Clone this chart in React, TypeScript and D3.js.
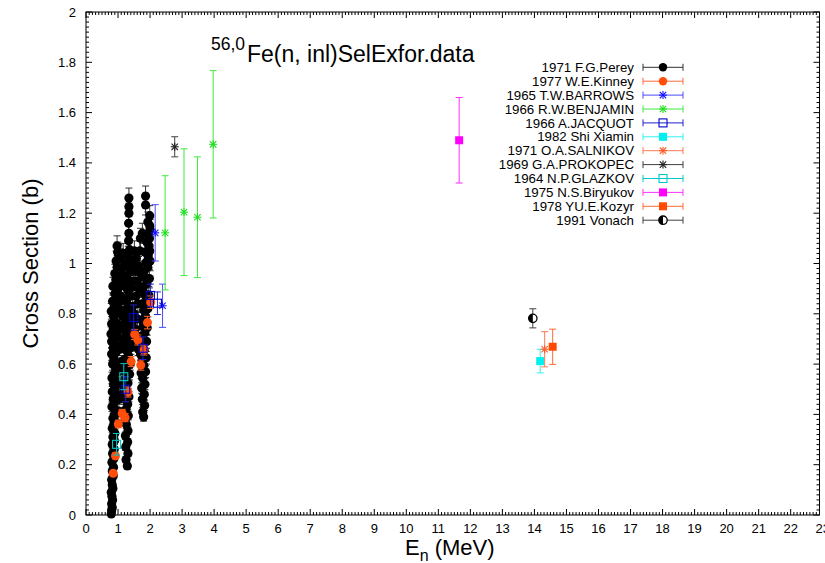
import React from 'react';
import * as d3 from 'd3';

const W = 825;
const H = 563;
const PLOT = { left: 86, right: 819.5, top: 12, bottom: 515 };
const FONT = '"Liberation Sans", Arial, Helvetica, sans-serif';

const xMajorTicks = d3.range(0, 23);
const xTickLabels = d3.range(0, 24).map(String);
const yMajorTicks = [0, 0.2, 0.4, 0.6, 0.8, 1, 1.2, 1.4, 1.6, 1.8, 2];
const yTickLabels = ['0', '0.2', '0.4', '0.6', '0.8', '1', '1.2', '1.4', '1.6', '1.8', '2'];

type Pt = [number, number, number];

// 1971 F.G.Perey  [E (MeV), sigma (b), err]
const pereyData: Pt[] = [
  [0.79, 0.004, 0.005], [0.8, 0.018, 0.006], [0.82, 0.03, 0.006], [0.8, 0.045, 0.007], [0.83, 0.06, 0.007],
  [0.81, 0.075, 0.008], [0.79, 0.09, 0.008], [0.84, 0.105, 0.009], [0.82, 0.12, 0.009], [0.8, 0.14, 0.01],
  [0.85, 0.155, 0.01], [0.82, 0.175, 0.011], [0.86, 0.19, 0.011], [0.81, 0.21, 0.012], [0.87, 0.225, 0.012],
  [0.83, 0.245, 0.013], [0.88, 0.26, 0.013], [0.82, 0.28, 0.014], [0.89, 0.295, 0.014],
  [0.84, 0.31, 0.015], [0.9, 0.325, 0.015], [0.82, 0.345, 0.016], [0.87, 0.36, 0.016], [0.93, 0.37, 0.017],
  [0.84, 0.385, 0.017], [0.89, 0.4, 0.018], [0.95, 0.415, 0.018], [0.81, 0.43, 0.019], [0.88, 0.445, 0.019],
  [0.85, 0.46, 0.02], [0.94, 0.47, 0.02], [0.82, 0.49, 0.021], [0.9, 0.5, 0.021], [0.86, 0.52, 0.022],
  [0.97, 0.53, 0.022], [0.81, 0.545, 0.023], [0.88, 0.56, 0.023], [0.93, 0.58, 0.024], [0.83, 0.6, 0.024],
  [0.99, 0.6, 0.024], [0.87, 0.62, 0.025], [0.8, 0.64, 0.025], [0.93, 0.645, 0.026], [0.85, 0.665, 0.026],
  [1.0, 0.67, 0.027], [0.8, 0.69, 0.027], [0.9, 0.7, 0.028], [0.78, 0.72, 0.028], [0.96, 0.725, 0.029],
  [0.85, 0.74, 0.029],
  [0.8, 0.76, 0.03], [0.9, 0.77, 0.03], [0.99, 0.76, 0.03], [0.86, 0.79, 0.031], [0.79, 0.81, 0.031],
  [0.95, 0.805, 0.031], [0.88, 0.83, 0.032], [1.03, 0.82, 0.032], [0.83, 0.85, 0.033], [0.95, 0.86, 0.033],
  [1.07, 0.85, 0.033], [0.9, 0.88, 0.034], [0.84, 0.91, 0.035], [1.0, 0.9, 0.035], [0.93, 0.935, 0.036],
  [1.1, 0.92, 0.036], [0.9, 0.96, 0.037], [1.04, 0.955, 0.037], [1.18, 0.95, 0.037], [0.97, 0.985, 0.038],
  [1.12, 0.98, 0.038], [0.94, 1.01, 0.039], [1.07, 1.02, 0.039], [0.99, 1.045, 0.04], [0.97, 1.07, 0.04],
  [1.02, 1.035, 0.04], [1.16, 1.04, 0.04], [1.22, 1.0, 0.04],
  [1.04, 0.46, 0.02], [1.09, 0.52, 0.022], [1.03, 0.57, 0.023], [1.1, 0.61, 0.024], [1.05, 0.66, 0.026],
  [1.13, 0.7, 0.028], [1.07, 0.74, 0.029], [1.14, 0.79, 0.031], [1.08, 0.87, 0.034], [1.15, 0.6, 0.024],
  [1.06, 0.41, 0.018], [1.12, 0.48, 0.02],
  [1.29, 0.195, 0.012], [1.25, 0.22, 0.012], [1.31, 0.245, 0.013], [1.24, 0.27, 0.013], [1.3, 0.29, 0.014],
  [1.23, 0.315, 0.015], [1.31, 0.335, 0.015], [1.26, 0.36, 0.016], [1.22, 0.38, 0.017], [1.32, 0.395, 0.017],
  [1.25, 0.42, 0.018], [1.3, 0.44, 0.019], [1.22, 0.46, 0.02], [1.34, 0.47, 0.02], [1.27, 0.49, 0.021],
  [1.2, 0.51, 0.021], [1.31, 0.525, 0.022], [1.25, 0.545, 0.023], [1.36, 0.56, 0.023], [1.19, 0.575, 0.024],
  [1.28, 0.59, 0.024], [1.38, 0.6, 0.024], [1.22, 0.62, 0.025], [1.32, 0.635, 0.025], [1.26, 0.655, 0.026],
  [1.4, 0.665, 0.026], [1.2, 0.68, 0.027], [1.3, 0.7, 0.028], [1.42, 0.71, 0.028], [1.24, 0.725, 0.029],
  [1.34, 0.745, 0.029], [1.2, 0.76, 0.03], [1.44, 0.765, 0.03], [1.28, 0.78, 0.031], [1.37, 0.8, 0.031],
  [1.23, 0.815, 0.032], [1.31, 0.835, 0.032], [1.46, 0.83, 0.032], [1.26, 0.86, 0.033], [1.39, 0.87, 0.034],
  [1.3, 0.895, 0.034], [1.22, 0.91, 0.035], [1.43, 0.905, 0.035], [1.34, 0.93, 0.036], [1.26, 0.95, 0.037],
  [1.38, 0.965, 0.037], [1.3, 0.99, 0.038], [1.4, 1.01, 0.039], [1.32, 1.03, 0.039], [1.36, 1.055, 0.04],
  [1.33, 1.09, 0.04], [1.34, 1.12, 0.04], [1.33, 1.16, 0.04], [1.34, 1.2, 0.04], [1.34, 1.226, 0.04],
  [1.34, 1.26, 0.04],
  [1.5, 0.68, 0.027], [1.54, 0.74, 0.03], [1.5, 0.8, 0.032], [1.56, 0.87, 0.034], [1.49, 0.93, 0.035],
  [1.6, 0.93, 0.036], [1.54, 0.97, 0.037], [1.64, 0.99, 0.038], [1.57, 1.02, 0.039], [1.68, 1.05, 0.04],
  [1.62, 0.84, 0.033], [1.6, 0.78, 0.031], [1.66, 0.9, 0.035], [1.72, 0.96, 0.037], [1.7, 1.1, 0.04],
  [1.46, 0.99, 0.038], [1.51, 1.05, 0.04], [1.58, 0.71, 0.028], [1.63, 0.66, 0.026], [1.76, 1.12, 0.04],
  [1.8, 0.39, 0.017], [1.77, 0.41, 0.018], [1.83, 0.435, 0.019], [1.76, 0.46, 0.02], [1.82, 0.48, 0.02],
  [1.74, 0.505, 0.021], [1.84, 0.52, 0.022], [1.77, 0.545, 0.023], [1.72, 0.565, 0.023], [1.86, 0.57, 0.023],
  [1.8, 0.595, 0.024], [1.75, 0.615, 0.025], [1.88, 0.625, 0.025], [1.7, 0.64, 0.025], [1.82, 0.655, 0.026],
  [1.77, 0.68, 0.027], [1.89, 0.69, 0.027], [1.72, 0.71, 0.028], [1.84, 0.725, 0.029], [1.78, 0.75, 0.03],
  [1.91, 0.745, 0.03], [1.74, 0.775, 0.03], [1.86, 0.79, 0.031], [1.8, 0.815, 0.032], [1.93, 0.82, 0.032],
  [1.76, 0.84, 0.033], [1.88, 0.855, 0.033], [1.82, 0.88, 0.034], [1.96, 0.875, 0.034], [1.78, 0.905, 0.035],
  [1.9, 0.92, 0.036], [1.84, 0.945, 0.037], [1.98, 0.94, 0.037], [1.81, 0.97, 0.038], [1.93, 0.985, 0.038],
  [1.88, 1.005, 0.039], [2.0, 1.01, 0.039], [1.94, 1.03, 0.04], [1.84, 1.045, 0.04], [1.99, 1.05, 0.04],
  [1.97, 1.07, 0.04], [1.9, 1.085, 0.04], [1.98, 1.1, 0.04], [1.95, 1.12, 0.04], [2.0, 1.135, 0.04],
  [1.99, 1.15, 0.04], [1.93, 1.165, 0.04], [1.99, 1.19, 0.04], [1.86, 1.233, 0.04], [1.86, 1.268, 0.04],
];

const kinneyData: Pt[] = [
  [0.85, 0.166, 0.01], [0.92, 0.235, 0.012], [1.01, 0.362, 0.015], [1.13, 0.404, 0.016], [1.22, 0.387, 0.016],
  [1.31, 0.489, 0.02], [1.41, 0.61, 0.02], [1.52, 0.718, 0.02], [1.62, 0.696, 0.02], [1.71, 0.596, 0.02],
  [1.81, 0.656, 0.02], [1.92, 0.765, 0.025], [2.02, 0.846, 0.025],
];
const barrowsData: Pt[] = [[2.16, 1.122, 0.112], [2.39, 0.832, 0.086]];
const benjaminData: Pt[] = [
  [2.47, 1.122, 0.227], [3.06, 1.204, 0.252], [3.48, 1.184, 0.24], [3.97, 1.474, 0.293],
];
const jacquotData: Pt[] = [
  [1.24, 0.5, 0.05], [1.49, 0.785, 0.05], [1.78, 0.663, 0.045], [2.01, 0.873, 0.045], [2.23, 0.842, 0.045],
];
const shiData: Pt[] = [[14.18, 0.612, 0.047]];
const salnikovData: Pt[] = [[14.32, 0.659, 0.07]];
const prokopecData: Pt[] = [[2.77, 1.464, 0.04]];
const glazkovData: Pt[] = [[0.955, 0.281, 0.043], [1.18, 0.55, 0.052]];
const biryukovData: Pt[] = [[11.65, 1.49, 0.17]];
const kozyrData: Pt[] = [[14.57, 0.669, 0.07]];
const vonachData: Pt[] = [[13.95, 0.782, 0.038]];

type Marker = 'circle' | 'star' | 'square' | 'fsquare' | 'half';
interface Series { name: string; color: string; bar: string; marker: Marker; data: Pt[]; r?: number }

const series: Series[] = [
  { name: '1971 F.G.Perey', color: '#000000', bar: '#303030', marker: 'circle', data: pereyData, r: 4.6 },
  { name: '1977 W.E.Kinney', color: '#ff4d0a', bar: '#ff6a3a', marker: 'circle', data: kinneyData, r: 4.5 },
  { name: '1965 T.W.BARROWS', color: '#1010ff', bar: '#4a4aff', marker: 'star', data: barrowsData },
  { name: '1966 R.W.BENJAMIN', color: '#22dd22', bar: '#3ee83e', marker: 'star', data: benjaminData },
  { name: '1966 A.JACQUOT', color: '#0000c8', bar: '#2020d0', marker: 'square', data: jacquotData },
  { name: '1982 Shi Xiamin', color: '#00f0f0', bar: '#30f0f0', marker: 'fsquare', data: shiData },
  { name: '1971 O.A.SALNIKOV', color: '#ff5a28', bar: '#ff7a50', marker: 'star', data: salnikovData },
  { name: '1969 G.A.PROKOPEC', color: '#202020', bar: '#404040', marker: 'star', data: prokopecData },
  { name: '1964 N.P.GLAZKOV', color: '#00c8c8', bar: '#00c8c8', marker: 'square', data: glazkovData },
  { name: '1975 N.S.Biryukov', color: '#ff00ff', bar: '#ff30ff', marker: 'fsquare', data: biryukovData },
  { name: '1978 YU.E.Kozyr', color: '#ff4a00', bar: '#ff6a30', marker: 'fsquare', data: kozyrData },
  { name: '1991 Vonach', color: '#000000', bar: '#404040', marker: 'half', data: vonachData },
];

const xScale = d3.scaleLinear().domain([0, 22.9]).range([PLOT.left, PLOT.right]);
const yScale = d3.scaleLinear().domain([0, 2]).range([PLOT.bottom, PLOT.top]);

function MarkerShape({ m, cx, cy, color, r = 4.2 }: { m: Marker; cx: number; cy: number; color: string; r?: number }) {
  if (m === 'circle') return <circle cx={cx} cy={cy} r={r} fill={color} />;
  if (m === 'square') return <rect x={cx - 4} y={cy - 4} width={8} height={8} fill="none" stroke={color} strokeWidth={1.1} />;
  if (m === 'fsquare') return <rect x={cx - 4} y={cy - 4} width={8} height={8} fill={color} />;
  if (m === 'half') {
    return (
      <g>
        <circle cx={cx} cy={cy} r={r} fill="#fff" stroke={color} strokeWidth={1.3} />
        <path d={`M${cx},${cy - r} A${r},${r} 0 0 0 ${cx},${cy + r} Z`} fill={color} />
      </g>
    );
  }
  const s = 4;
  const d = 3.2;
  return (
    <g stroke={color} strokeWidth={1.1}>
      <line x1={cx - s} y1={cy} x2={cx + s} y2={cy} />
      <line x1={cx} y1={cy - s} x2={cx} y2={cy + s} />
      <line x1={cx - d} y1={cy - d} x2={cx + d} y2={cy + d} />
      <line x1={cx - d} y1={cy + d} x2={cx + d} y2={cy - d} />
    </g>
  );
}

function ErrBar({ cx, y0, y1, color }: { cx: number; y0: number; y1: number; color: string }) {
  const c = 3.5;
  return (
    <g stroke={color} strokeWidth={1}>
      <line x1={cx} y1={y0} x2={cx} y2={y1} />
      <line x1={cx - c} y1={y0} x2={cx + c} y2={y0} />
      <line x1={cx - c} y1={y1} x2={cx + c} y2={y1} />
    </g>
  );
}

export default function App() {
  const xMinor = d3.range(0, 230).map((i) => i / 10).filter((v) => Math.abs(v - Math.round(v)) > 1e-6 && v <= 22.9);
  const yMinor = d3.range(0, 100).map((i) => i / 50).filter((v) => Math.abs(v * 5 - Math.round(v * 5)) > 1e-6);
  const legX0 = 643;
  const legX1 = 683;
  const legMid = 663;
  const legY0 = 67.3;
  const legDy = 13.9;

  return (
    <svg width={W} height={H} style={{ position: 'absolute', left: 0, top: 0, background: '#fff' }} fontFamily={FONT}>
      <rect x={0} y={0} width={W} height={H} fill="#fff" />
      {/* ticks */}
      <g stroke="#000" strokeWidth={1}>
        {xMinor.map((v) => (
          <g key={'xm' + v}>
            <line x1={xScale(v)} x2={xScale(v)} y1={PLOT.bottom} y2={PLOT.bottom - 3} />
            <line x1={xScale(v)} x2={xScale(v)} y1={PLOT.top} y2={PLOT.top + 3} />
          </g>
        ))}
        {yMinor.map((v) => (
          <g key={'ym' + v}>
            <line x1={PLOT.left} x2={PLOT.left + 3} y1={yScale(v)} y2={yScale(v)} />
            <line x1={PLOT.right} x2={PLOT.right - 3} y1={yScale(v)} y2={yScale(v)} />
          </g>
        ))}
        {xMajorTicks.map((v) => (
          <g key={'xM' + v}>
            <line x1={xScale(v)} x2={xScale(v)} y1={PLOT.bottom} y2={PLOT.bottom - 6} />
            <line x1={xScale(v)} x2={xScale(v)} y1={PLOT.top} y2={PLOT.top + 6} />
          </g>
        ))}
        {yMajorTicks.map((v) => (
          <g key={'yM' + v}>
            <line x1={PLOT.left} x2={PLOT.left + 6} y1={yScale(v)} y2={yScale(v)} />
            <line x1={PLOT.right} x2={PLOT.right - 6} y1={yScale(v)} y2={yScale(v)} />
          </g>
        ))}
      </g>
      {/* tick labels */}
      <g fontSize={13} fill="#000">
        {xTickLabels.map((t, i) => (
          <text key={'xl' + t} x={xScale(i)} y={533} textAnchor="middle">{t}</text>
        ))}
        {yMajorTicks.map((v, i) => (
          <text key={'yl' + v} x={76} y={yScale(v) + 4.5} textAnchor="end">{yTickLabels[i]}</text>
        ))}
      </g>
      {/* axis titles */}
      <text x={405} y={555} fontSize={22} fill="#000">
        E<tspan fontSize={16} dy={6}>n</tspan><tspan dy={-6}> (MeV)</tspan>
      </text>
      <text transform={`translate(38,${(PLOT.top + PLOT.bottom) / 2}) rotate(-90)`} textAnchor="middle" fontSize={22} fill="#000">
        Cross Section (b)
      </text>
      {/* title */}
      <text x={211} y={50} fontSize={17.5} fill="#000">56,0</text>
      <text x={247} y={62} fontSize={23} fill="#000">Fe(n, inl)SelExfor.data</text>

      {/* data */}
      {series.map((s) => (
        <g key={s.name}>
          {s.data.map((p, i) => (
            <ErrBar key={'e' + i} cx={xScale(p[0])} y0={yScale(p[1] - p[2])} y1={yScale(p[1] + p[2])} color={s.bar} />
          ))}
          {s.data.map((p, i) => (
            <MarkerShape key={'m' + i} m={s.marker} cx={xScale(p[0])} cy={yScale(p[1])} color={s.color} r={s.r} />
          ))}
        </g>
      ))}

      {/* legend */}
      {series.map((s, i) => {
        const y = legY0 + i * legDy;
        return (
          <g key={'lg' + s.name}>
            <text x={634} y={y + 4.6} textAnchor="end" fontSize={13.3} fill="#000">{s.name}</text>
            <g stroke={s.bar} strokeWidth={1}>
              <line x1={legX0} x2={legX1} y1={y} y2={y} />
              <line x1={legX0} x2={legX0} y1={y - 3.5} y2={y + 3.5} />
              <line x1={legX1} x2={legX1} y1={y - 3.5} y2={y + 3.5} />
            </g>
            <MarkerShape m={s.marker} cx={legMid} cy={y} color={s.color} />
          </g>
        );
      })}

      {/* frame */}
      <rect x={PLOT.left} y={PLOT.top} width={PLOT.right - PLOT.left} height={PLOT.bottom - PLOT.top} fill="none" stroke="#000" strokeWidth={1} />
    </svg>
  );
}
